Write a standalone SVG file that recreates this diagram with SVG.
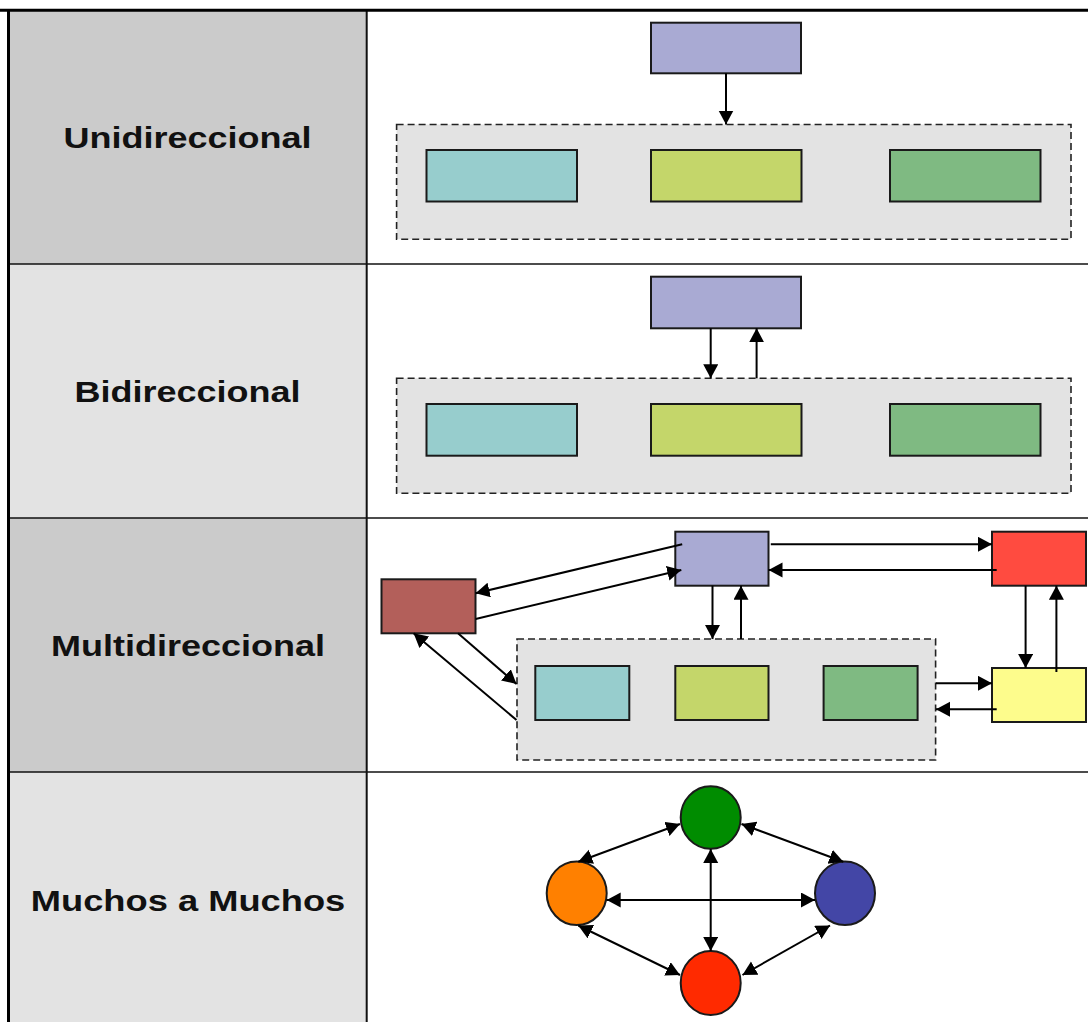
<svg xmlns="http://www.w3.org/2000/svg" width="1088" height="1022" viewBox="0 0 1088 1022">
  <style>
    .label { font-family: "Liberation Sans", Arial, sans-serif; font-weight: bold; font-size: 30px; fill: #111; text-anchor: middle; }
    .box { stroke: #1a1a1a; stroke-width: 2; }
    .group { fill: #e3e3e3; stroke: #222; stroke-width: 1.6; stroke-dasharray: 7 4; }
    .rule { stroke: #111; stroke-width: 1.5; }
    .conn { stroke: #000; stroke-width: 2; fill: none; marker-end: url(#head); }
    .both { marker-start: url(#headStart); }
    .node { stroke: #1a1a1a; stroke-width: 2; }
  </style>
  <defs>
    <marker id="head" markerUnits="userSpaceOnUse" markerWidth="16" markerHeight="16" refX="14" refY="7.5" orient="auto">
      <path d="M0,0 L14,7.5 L0,15 z" fill="#000"/>
    </marker>
    <marker id="headStart" markerUnits="userSpaceOnUse" markerWidth="16" markerHeight="16" refX="14" refY="7.5" orient="auto-start-reverse">
      <path d="M0,0 L14,7.5 L0,15 z" fill="#000"/>
    </marker>
  </defs>

  <!-- page background -->
  <rect x="0" y="0" width="1088" height="1022" fill="#fff"/>

  <!-- table: label column backgrounds and rules -->
  <g id="table">
    <rect x="8" y="10" width="359" height="254" fill="#cbcbcb"/>
    <rect x="8" y="264" width="359" height="254" fill="#e3e3e3"/>
    <rect x="8" y="518" width="359" height="254" fill="#cbcbcb"/>
    <rect x="8" y="772" width="359" height="250" fill="#e3e3e3"/>
    <line class="rule" x1="8" y1="264" x2="1088" y2="264"/>
    <line class="rule" x1="8" y1="518" x2="1088" y2="518"/>
    <line class="rule" x1="8" y1="772" x2="1088" y2="772"/>
    <line x1="366.7" y1="10" x2="366.7" y2="1022" stroke="#111" stroke-width="2"/>
    <line x1="0" y1="10.3" x2="1088" y2="10.3" stroke="#000" stroke-width="3"/>
    <line x1="8.5" y1="9" x2="8.5" y2="1022" stroke="#000" stroke-width="3"/>
  </g>

  <!-- row labels (wide setting) -->
  <g id="labels">
    <text id="lbl-uni" class="label" transform="translate(187.5 147.5) scale(1.2 1)">Unidireccional</text>
    <text id="lbl-bi" class="label" transform="translate(187.5 401.5) scale(1.2 1)">Bidireccional</text>
    <text id="lbl-multi" class="label" transform="translate(188 655.5) scale(1.2 1)">Multidireccional</text>
    <text id="lbl-many" class="label" transform="translate(188 910.5) scale(1.21 1)">Muchos a Muchos</text>
  </g>

  <!-- row 1: unidirectional -->
  <g id="uni-group"><rect class="group" x="396.6" y="124.5" width="674.4" height="114.8"/></g>
  <g id="uni-source"><rect class="box" x="651" y="22.7" width="150" height="50.6" fill="#a9aad3"/></g>
  <g id="uni-a"><rect class="box" x="426.5" y="150" width="150.5" height="51.5" fill="#97cdcd"/></g>
  <g id="uni-b"><rect class="box" x="651" y="150" width="150.5" height="51.5" fill="#c4d66a"/></g>
  <g id="uni-c"><rect class="box" x="890" y="150" width="150.5" height="51.5" fill="#7fba82"/></g>

  <!-- row 2: bidirectional -->
  <g id="bi-group"><rect class="group" x="396.6" y="378.3" width="674.4" height="115"/></g>
  <g id="bi-source"><rect class="box" x="651" y="276.7" width="150" height="51.6" fill="#a9aad3"/></g>
  <g id="bi-a"><rect class="box" x="426.5" y="404" width="150.5" height="51.7" fill="#97cdcd"/></g>
  <g id="bi-b"><rect class="box" x="651" y="404" width="150.5" height="51.7" fill="#c4d66a"/></g>
  <g id="bi-c"><rect class="box" x="890" y="404" width="150.5" height="51.7" fill="#7fba82"/></g>

  <!-- row 3: multidirectional -->
  <g id="multi-group"><rect class="group" x="517" y="639" width="418.6" height="121"/></g>
  <g id="multi-hub"><rect class="box" x="675.3" y="531.7" width="93.2" height="54" fill="#a9aad3"/></g>
  <g id="multi-red"><rect class="box" x="992" y="531.7" width="94" height="54" fill="#ff4b40"/></g>
  <g id="multi-brown"><rect class="box" x="381.5" y="579.3" width="94" height="54" fill="#b35f5a"/></g>
  <g id="multi-yellow"><rect class="box" x="992" y="668" width="94" height="54" fill="#fdfc8c"/></g>
  <g id="multi-a"><rect class="box" x="535.3" y="666" width="94" height="54" fill="#97cdcd"/></g>
  <g id="multi-b"><rect class="box" x="675.3" y="666" width="93.2" height="54" fill="#c4d66a"/></g>
  <g id="multi-c"><rect class="box" x="823.6" y="666" width="94" height="54" fill="#7fba82"/></g>

  <!-- row 4: many to many -->
  <g id="m-green"><ellipse class="node" cx="710.7" cy="817.5" rx="30" ry="31.3" fill="#008c00"/></g>
  <g id="m-orange"><ellipse class="node" cx="576.7" cy="893.3" rx="30" ry="31.8" fill="#ff8000"/></g>
  <g id="m-blue"><ellipse class="node" cx="845" cy="893.3" rx="30" ry="31.8" fill="#4346a6"/></g>
  <g id="m-red"><ellipse class="node" cx="710.7" cy="983" rx="30" ry="32" fill="#ff2a00"/></g>

  <!-- connectors -->
  <g id="connectors">
    <!-- row 1 -->
    <line class="conn" x1="726" y1="73.3" x2="726" y2="124.5"/>
    <!-- row 2 -->
    <line class="conn" x1="710.7" y1="328.3" x2="710.7" y2="378.3"/>
    <line class="conn" x1="756.6" y1="378.3" x2="756.6" y2="328.3"/>
    <!-- row 3 -->
    <line class="conn" x1="770.8" y1="544.3" x2="992" y2="544.3"/>
    <line class="conn" x1="996.7" y1="570" x2="768.5" y2="570"/>
    <line class="conn" x1="682.2" y1="544.3" x2="475.6" y2="593.3"/>
    <line class="conn" x1="475.6" y1="619" x2="681.3" y2="570"/>
    <line class="conn" x1="712.5" y1="585.7" x2="712.5" y2="639"/>
    <line class="conn" x1="741" y1="639" x2="741" y2="585.7"/>
    <line class="conn" x1="458" y1="633.3" x2="516.5" y2="684"/>
    <line class="conn" x1="516.5" y1="720" x2="413.6" y2="633.3"/>
    <line class="conn" x1="1025.6" y1="585.7" x2="1025.6" y2="668"/>
    <line class="conn" x1="1056.4" y1="672" x2="1056.4" y2="585.7"/>
    <line class="conn" x1="936" y1="683.3" x2="992" y2="683.3"/>
    <line class="conn" x1="996.7" y1="709.3" x2="936" y2="709.3"/>
    <!-- row 4 -->
    <line class="conn both" x1="578.3" y1="861.7" x2="680" y2="824"/>
    <line class="conn both" x1="741.5" y1="824" x2="843.3" y2="861.7"/>
    <line class="conn both" x1="710.7" y1="849" x2="710.7" y2="951"/>
    <line class="conn both" x1="606.7" y1="900" x2="815" y2="900"/>
    <line class="conn both" x1="578.3" y1="925.5" x2="680" y2="975"/>
    <line class="conn both" x1="830" y1="925.5" x2="742.5" y2="975"/>
  </g>
</svg>
